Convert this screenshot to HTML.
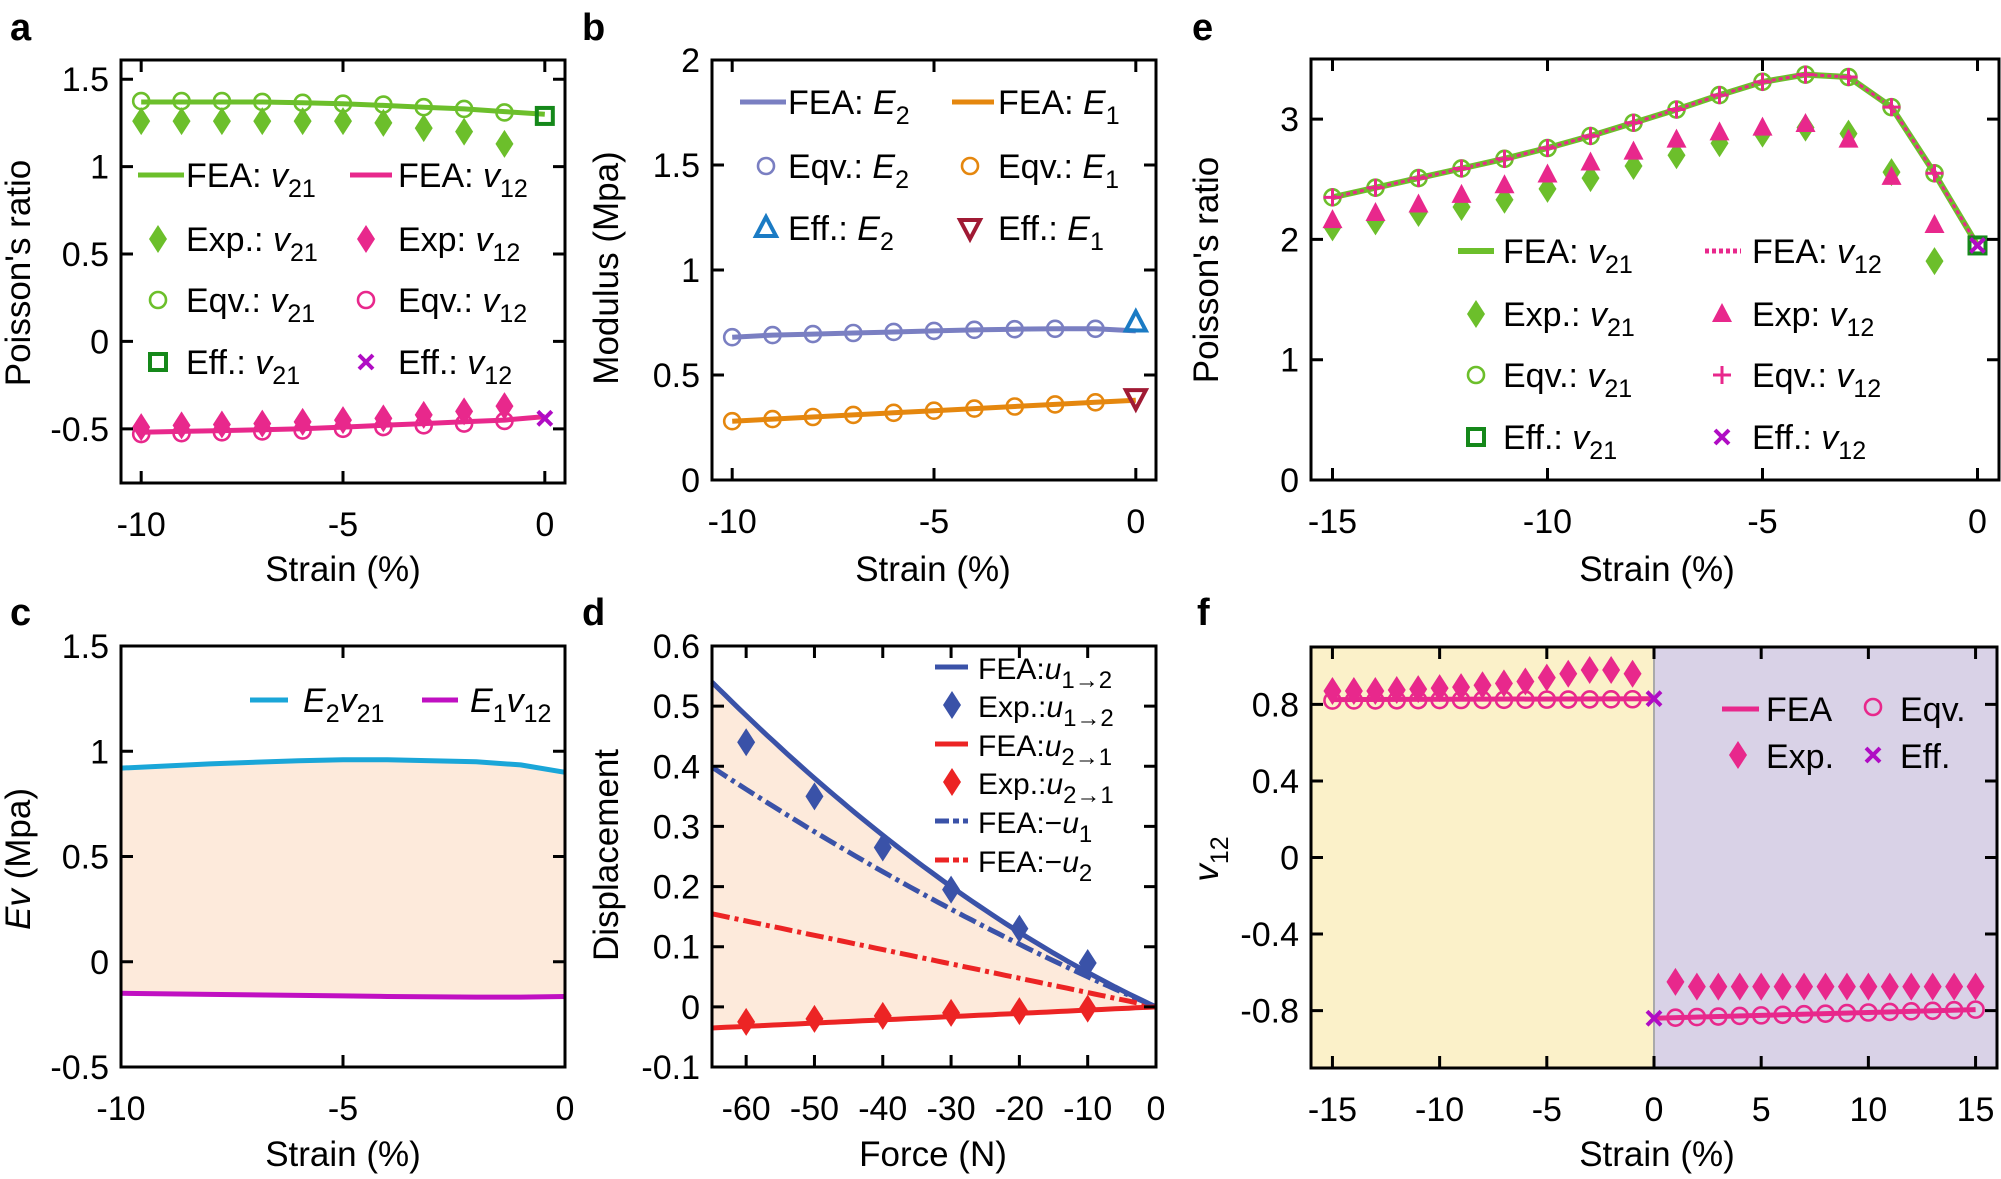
<!DOCTYPE html>
<html><head><meta charset="utf-8"><style>
html,body{margin:0;padding:0;background:#fff}
svg{display:block}
text{font-family:"Liberation Sans",Arial,sans-serif;fill:#000}
</style></head><body>
<svg id="s" xmlns="http://www.w3.org/2000/svg" width="2001" height="1179" viewBox="0 0 2001 1179"></svg>
<script>
var S=document.getElementById('s');var out='';
function P(o){o.X=function(v){return o.x0+(v-o.xmin)/(o.xmax-o.xmin)*(o.x1-o.x0)};o.Y=function(v){return o.y1-(v-o.ymin)/(o.ymax-o.ymin)*(o.y1-o.y0)};return o;}
function line(p,pts,c,w,dash){var d=pts.map(function(q,i){return (i?'L':'M')+p.X(q[0]).toFixed(1)+','+p.Y(q[1]).toFixed(1)}).join('');out+='<path d="'+d+'" fill="none" stroke="'+c+'" stroke-width="'+w+'"'+(dash?' stroke-dasharray="'+dash+'"':'')+' stroke-linejoin="round"/>';}
function mk(t,x,y,c){
 if(t=='d')out+='<path d="M'+x+','+(y-14)+'L'+(x+9)+','+y+'L'+x+','+(y+14)+'L'+(x-9)+','+y+'Z" fill="'+c+'"/>';
 else if(t=='o')out+='<circle cx="'+x+'" cy="'+y+'" r="8" fill="none" stroke="'+c+'" stroke-width="2.6"/>';
 else if(t=='s')out+='<rect x="'+(x-8)+'" y="'+(y-8)+'" width="16" height="16" fill="none" stroke="'+c+'" stroke-width="4"/>';
 else if(t=='x')out+='<path d="M'+(x-7)+','+(y-7)+'L'+(x+7)+','+(y+7)+'M'+(x+7)+','+(y-7)+'L'+(x-7)+','+(y+7)+'" stroke="'+c+'" stroke-width="4"/>';
 else if(t=='+')out+='<path d="M'+(x-9)+','+y+'L'+(x+9)+','+y+'M'+x+','+(y-9)+'L'+x+','+(y+9)+'" stroke="'+c+'" stroke-width="3"/>';
 else if(t=='tu')out+='<path d="M'+x+','+(y-11)+'L'+(x+10)+','+(y+8)+'L'+(x-10)+','+(y+8)+'Z" fill="'+c+'"/>';
 else if(t=='tuo')out+='<path d="M'+x+','+(y-11)+'L'+(x+10)+','+(y+8)+'L'+(x-10)+','+(y+8)+'Z" fill="none" stroke="'+c+'" stroke-width="4"/>';
 else if(t=='tdo')out+='<path d="M'+x+','+(y+11)+'L'+(x+10)+','+(y-8)+'L'+(x-10)+','+(y-8)+'Z" fill="none" stroke="'+c+'" stroke-width="4"/>';
}
function pts(p,t,xs,ys,c){xs.forEach(function(x,i){mk(t,p.X(x),p.Y(ys[i]),c)});}
function axes(p,xt,yt){
 var s='',L=12,fs=34;
 xt.forEach(function(v){var x=p.X(v);s+='M'+x+','+p.y1+'v-'+L+'M'+x+','+p.y0+'v'+L;out+='<text x="'+x+'" y="'+(p.y1+53)+'" font-size="'+fs+'" text-anchor="middle">'+v+'</text>';});
 yt.forEach(function(v){var y=p.Y(v);s+='M'+p.x0+','+y+'h'+L+'M'+p.x1+','+y+'h-'+L;out+='<text x="'+(p.x0-12)+'" y="'+(y+12)+'" font-size="'+fs+'" text-anchor="end">'+v+'</text>';});
 out+='<path d="'+s+'" stroke="#000" stroke-width="3"/>';
 out+='<rect x="'+p.x0+'" y="'+p.y0+'" width="'+(p.x1-p.x0)+'" height="'+(p.y1-p.y0)+'" fill="none" stroke="#000" stroke-width="3"/>';
}
function T(x,y,html,fs,extra){out+='<text x="'+x+'" y="'+y+'" font-size="'+(fs||34)+'" '+(extra||'')+'>'+html+'</text>';}
function sub(a,b){return '<tspan>'+a+'</tspan><tspan font-style="italic">'+b[0]+'</tspan><tspan dy="10" font-size="25">'+b[1]+'</tspan><tspan dy="-10"></tspan>';}
var G='#6cbf2b',PK='#e8288c',DG='#15881a',PU='#b00cc4';
function rng(a,b){var r=[];for(var i=a;i<=b;i++)r.push(i);return r;}

/* panel a */
var a=P({x0:121,x1:565,y0:60,y1:483,xmin:-10.5,xmax:0.5,ymin:-0.81,ymax:1.61});
var xa=rng(-10,0);
var g21=[1.37,1.37,1.37,1.37,1.365,1.36,1.35,1.34,1.33,1.315,1.30];
var p12=[-0.52,-0.515,-0.51,-0.505,-0.5,-0.49,-0.48,-0.47,-0.46,-0.45,-0.43];
line(a,xa.map(function(x,i){return[x,g21[i]]}),G,5);
line(a,xa.map(function(x,i){return[x,p12[i]]}),PK,5);
pts(a,'d',rng(-10,-1),[1.26,1.26,1.26,1.26,1.26,1.26,1.25,1.22,1.2,1.13],G);
pts(a,'o',rng(-10,-1),[1.375,1.375,1.375,1.37,1.365,1.36,1.355,1.34,1.33,1.31],G);
pts(a,'d',rng(-10,-1),[-0.49,-0.48,-0.475,-0.47,-0.46,-0.45,-0.44,-0.42,-0.4,-0.37],PK);
pts(a,'o',rng(-10,-1),[-0.53,-0.525,-0.52,-0.515,-0.51,-0.5,-0.49,-0.48,-0.47,-0.455],PK);
mk('s',a.X(0),a.Y(1.29),DG);mk('x',a.X(0),a.Y(-0.44),PU);
axes(a,[-10,-5,0],[1.5,1,0.5,0,-0.5]);
var ly=[175,239,300,362];
out+='<path d="M138,'+ly[0]+'h46" stroke="'+G+'" stroke-width="5"/><path d="M350,'+ly[0]+'h42" stroke="'+PK+'" stroke-width="5"/>';
mk('d',158,ly[1],G);mk('d',366,ly[1],PK);mk('o',158,ly[2],G);mk('o',366,ly[2],PK);mk('s',158,ly[3],DG);mk('x',366,ly[3],PU);
[['FEA: ','FEA: '],['Exp.: ','Exp: '],['Eqv.: ','Eqv.: '],['Eff.: ','Eff.: ']].forEach(function(r,i){T(186,ly[i]+12,sub(r[0],['v','21']),34);T(398,ly[i]+12,sub(r[1],['v','12']),34);});

/* panel b */
var b=P({x0:712,x1:1156,y0:60,y1:480,xmin:-10.5,xmax:0.5,ymin:0,ymax:2});
var e2=[0.68,0.69,0.695,0.70,0.705,0.71,0.715,0.718,0.72,0.72,0.71];
var e1=[0.28,0.29,0.30,0.31,0.32,0.33,0.34,0.35,0.36,0.37,0.38];
line(b,xa.map(function(x,i){return[x,e2[i]]}),'#7a7fc2',5);
line(b,xa.map(function(x,i){return[x,e1[i]]}),'#e5870e',5);
pts(b,'o',rng(-10,-1),e2.slice(0,10),'#7a7fc2');pts(b,'o',rng(-10,-1),e1.slice(0,10),'#e5870e');
mk('tuo',b.X(0),b.Y(0.75),'#1b7bc4');mk('tdo',b.X(0),b.Y(0.39),'#a01a34');
axes(b,[-10,-5,0],[2,1.5,1,0.5,0]);
var lb=[102,166,228];
out+='<path d="M740,'+lb[0]+'h46" stroke="#7a7fc2" stroke-width="5"/><path d="M952,'+lb[0]+'h42" stroke="#e5870e" stroke-width="5"/>';
mk('o',766,lb[1],'#7a7fc2');mk('o',970,lb[1],'#e5870e');mk('tuo',766,lb[2],'#1b7bc4');mk('tdo',970,lb[2],'#a01a34');
[['FEA: ','FEA: '],['Eqv.: ','Eqv.: '],['Eff.: ','Eff.: ']].forEach(function(r,i){T(788,lb[i]+12,sub(r[0],['E','2']),34);T(998,lb[i]+12,sub(r[1],['E','1']),34);});

/* panel e */
var e=P({x0:1311,x1:1999,y0:59,y1:480,xmin:-15.5,xmax:0.5,ymin:0,ymax:3.5});
var xe=rng(-15,0);
var fe=[2.35,2.43,2.51,2.59,2.67,2.76,2.86,2.97,3.08,3.2,3.31,3.37,3.35,3.1,2.55,1.95];
line(e,xe.map(function(x,i){return[x,fe[i]]}),G,6);
line(e,xe.map(function(x,i){return[x,fe[i]]}),PK,3,'4,3');
pts(e,'d',rng(-15,-1),[2.1,2.15,2.22,2.27,2.33,2.42,2.51,2.61,2.7,2.8,2.88,2.93,2.88,2.56,1.82],G);
pts(e,'tu',rng(-15,-1),[2.16,2.22,2.29,2.37,2.45,2.54,2.64,2.73,2.83,2.89,2.93,2.96,2.83,2.52,2.12],PK);
pts(e,'o',rng(-15,-1),fe.slice(0,15),G);pts(e,'+',rng(-15,-1),fe.slice(0,15),PK);
mk('s',e.X(0),e.Y(1.95),DG);mk('x',e.X(0),e.Y(1.95),PU);
axes(e,[-15,-10,-5,0],[3,2,1,0]);
var le=[251,314,375,437];
out+='<path d="M1458,'+le[0]+'h36" stroke="'+G+'" stroke-width="6"/><path d="M1705,'+le[0]+'h36" stroke="'+PK+'" stroke-width="5" stroke-dasharray="4,3"/>';
mk('d',1476,le[1],G);mk('tu',1722,le[1],PK);mk('o',1476,le[2],G);mk('+',1722,le[2],PK);mk('s',1476,le[3],DG);mk('x',1722,le[3],PU);
[['FEA: ','FEA: '],['Exp.: ','Exp: '],['Eqv.: ','Eqv.: '],['Eff.: ','Eff.: ']].forEach(function(r,i){T(1503,le[i]+12,sub(r[0],['v','21']),34);T(1752,le[i]+12,sub(r[1],['v','12']),34);});

/* panel c */
var c=P({x0:121,x1:565,y0:646,y1:1067,xmin:-10,xmax:0,ymin:-0.5,ymax:1.5});
var cx=[-10,-8,-6,-5,-4,-2,-1,0],cb=[0.92,0.94,0.955,0.96,0.96,0.95,0.935,0.90];
var cm=[-0.15,-0.155,-0.16,-0.162,-0.165,-0.168,-0.168,-0.165];
var poly=cx.map(function(x,i){return c.X(x)+','+c.Y(cb[i])}).concat(cx.slice().reverse().map(function(x,i){return c.X(x)+','+c.Y(cm[cx.length-1-i])})).join(' ');
out+='<polygon points="'+poly+'" fill="#fdeadb"/>';
line(c,cx.map(function(x,i){return[x,cb[i]]}),'#1aa6d8',5);
line(c,cx.map(function(x,i){return[x,cm[i]]}),'#c010c2',5);
axes(c,[-10,-5,0],[1.5,1,0.5,0,-0.5]);
out+='<path d="M250,700h38" stroke="#1aa6d8" stroke-width="5"/><path d="M422,700h36" stroke="#c010c2" stroke-width="5"/>';
T(303,712,'<tspan font-style="italic">E</tspan><tspan dy="10" font-size="25">2</tspan><tspan dy="-10" font-style="italic">v</tspan><tspan dy="10" font-size="25">21</tspan>',34);
T(470,712,'<tspan font-style="italic">E</tspan><tspan dy="10" font-size="25">1</tspan><tspan dy="-10" font-style="italic">v</tspan><tspan dy="10" font-size="25">12</tspan>',34);

/* panel d */
var d=P({x0:712,x1:1156,y0:646,y1:1067,xmin:-65,xmax:0,ymin:-0.1,ymax:0.6});
var F=[];for(var f=-65;f<=0;f+=1)F.push(f);
function u12(f){var a=-f;return 0.00526*a+0.0000469*a*a}
function mu1(f){var a=-f;return 0.0048*a+0.0000205*a*a}
function mu2(f){return -f*0.00238}
function u21(f){return f*0.00054}
var polyd=F.map(function(f){return d.X(f)+','+d.Y(u12(f))}).concat(F.slice().reverse().map(function(f){return d.X(f)+','+d.Y(u21(f))})).join(' ');
out+='<polygon points="'+polyd+'" fill="#fdeadb"/>';
line(d,F.map(function(f){return[f,mu1(f)]}),'#3a52a8',5,'18,5,4,5');
line(d,F.map(function(f){return[f,mu2(f)]}),'#ec2424',5,'18,5,4,5');
line(d,F.map(function(f){return[f,u12(f)]}),'#3a52a8',5);
line(d,F.map(function(f){return[f,u21(f)]}),'#ec2424',5);
pts(d,'d',[-60,-50,-40,-30,-20,-10],[0.44,0.35,0.265,0.195,0.13,0.073],'#3a52a8');
pts(d,'d',[-60,-50,-40,-30,-20,-10],[-0.025,-0.02,-0.015,-0.01,-0.007,-0.003],'#ec2424');
axes(d,[-60,-50,-40,-30,-20,-10,0],[0.6,0.5,0.4,0.3,0.2,0.1,0,-0.1]);
var ld=[667,705,744,782,821,860];
out+='<path d="M935,'+ld[0]+'h33" stroke="#3a52a8" stroke-width="5"/><path d="M935,'+ld[2]+'h33" stroke="#ec2424" stroke-width="5"/>';
out+='<path d="M935,'+ld[4]+'h33" stroke="#3a52a8" stroke-width="5" stroke-dasharray="14,4,6,4"/><path d="M935,'+ld[5]+'h33" stroke="#ec2424" stroke-width="5" stroke-dasharray="14,4,6,4"/>';
mk('d',952,ld[1],'#3a52a8');mk('d',952,ld[3],'#ec2424');
function ul(a,s){return '<tspan>'+a+'</tspan><tspan font-style="italic">u</tspan><tspan dy="9" font-size="24">'+s+'</tspan>';}
T(978,ld[0]+12,ul('FEA:','1→2'),30);T(978,ld[1]+12,ul('Exp.:','1→2'),30);
T(978,ld[2]+12,ul('FEA:','2→1'),30);T(978,ld[3]+12,ul('Exp.:','2→1'),30);
T(978,ld[4]+12,ul('FEA:−','1'),30);T(978,ld[5]+12,ul('FEA:−','2'),30);

/* panel f */
var ff=P({x0:1311,x1:1997,y0:647,y1:1068,xmin:-16,xmax:16,ymin:-1.1,ymax:1.1});
out+='<rect x="1311" y="647" width="'+(ff.X(0)-1311)+'" height="421" fill="#fbf1c9"/>';
out+='<rect x="'+ff.X(0)+'" y="647" width="'+(1997-ff.X(0))+'" height="421" fill="#d9d2e7"/>';
out+='<path d="M'+ff.X(0)+',647V1068" stroke="#aaa" stroke-width="2"/>';
line(ff,[[-15,0.825],[0,0.83]],PK,5);
line(ff,[[0,-0.84],[15,-0.795]],PK,5);
pts(ff,'d',rng(-15,-1),[0.87,0.87,0.87,0.875,0.88,0.885,0.89,0.9,0.91,0.92,0.94,0.96,0.98,0.98,0.96],PK);
pts(ff,'o',rng(-15,-1),rng(-15,-1).map(function(x){return 0.82+0.0005*(x+15)}),PK);
pts(ff,'d',rng(1,15),rng(1,15).map(function(x){return x==1?-0.65:-0.675}),PK);
pts(ff,'o',rng(1,15),rng(1,15).map(function(x){return -0.84+0.003*x}),PK);
mk('x',ff.X(0),ff.Y(0.83),PU);mk('x',ff.X(0),ff.Y(-0.84),PU);
axes(ff,[-15,-10,-5,0,5,10,15],[0.8,0.4,0,-0.4,-0.8]);
out+='<path d="M1722,709h37" stroke="'+PK+'" stroke-width="5"/>';mk('o',1873,707,PK);mk('d',1738,755,PK);mk('x',1873,755,PU);
T(1766,721,'FEA',34);T(1900,721,'Eqv.',34);T(1766,768,'Exp.',34);T(1900,768,'Eff.',34);

/* axis labels */
function yl(x,y,html){out+='<text transform="translate('+x+','+y+') rotate(-90)" font-size="35" text-anchor="middle">'+html+'</text>';}
yl(30,273,"Poisson's ratio");yl(618,268,'Modulus (Mpa)');yl(1218,270,"Poisson's ratio");
yl(30,859,'<tspan font-style="italic">Ev</tspan> (Mpa)');yl(618,855,'Displacement');
yl(1218,859,'<tspan font-style="italic">v</tspan><tspan dy="10" font-size="25">12</tspan>');
T(343,581,'Strain (%)',35,'text-anchor="middle"');T(933,581,'Strain (%)',35,'text-anchor="middle"');T(1657,581,'Strain (%)',35,'text-anchor="middle"');
T(343,1166,'Strain (%)',35,'text-anchor="middle"');T(933,1166,'Force (N)',35,'text-anchor="middle"');T(1657,1166,'Strain (%)',35,'text-anchor="middle"');
[['a',10,40],['b',582,40],['e',1192,40],['c',10,625],['d',582,625],['f',1197,625]].forEach(function(l){T(l[1],l[2],l[0],38,'font-weight="bold"');});
S.innerHTML=out;
</script>
</body></html>
